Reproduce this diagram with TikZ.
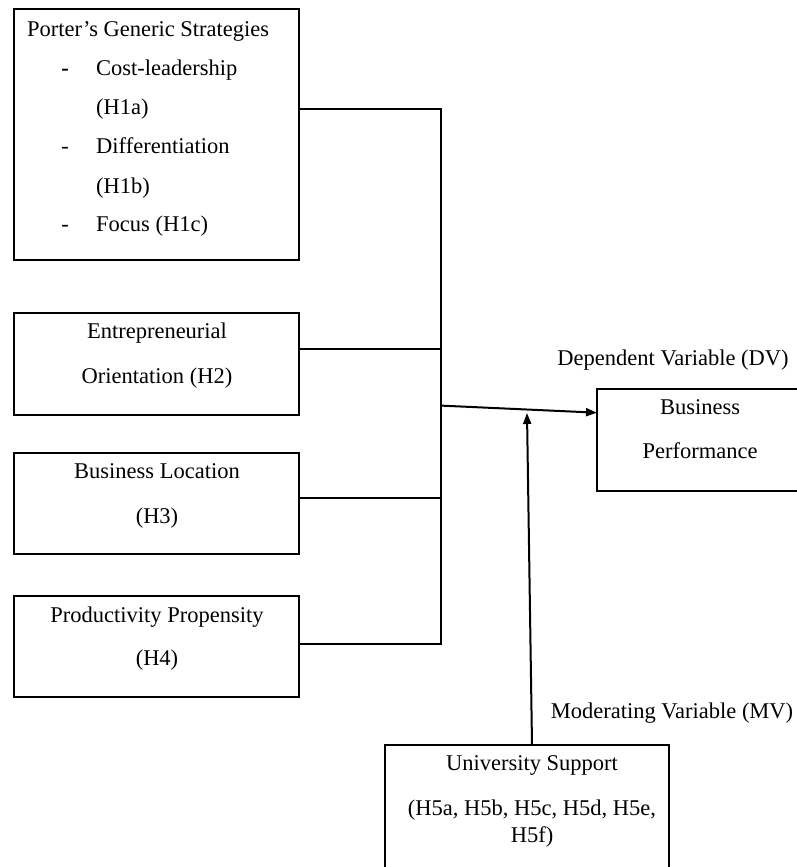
\documentclass[tikz,border=0pt]{standalone}
\usepackage{fontspec}
\setmainfont{Liberation Serif}
\usetikzlibrary{arrows.meta,calc}
\begin{document}
\begin{tikzpicture}[x=1pt,y=-1pt,
  box/.style={draw, line width=1.8pt, inner sep=0pt},
  lbl/.style={inner sep=0pt, text height=15.5pt, text depth=5pt, font=\fontsize{22.5}{27}\selectfont},
  conn/.style={line width=2pt},
  arr/.style={line width=2pt, -{Triangle[length=11pt,width=8pt]}}]
\useasboundingbox (0,0) rectangle (797,867);
\fill[white] (0,0) rectangle (797,867);
\clip (0,0) rectangle (797,867);

% boxes
\node[box, minimum width=285pt, minimum height=251pt] (box1) at (156.5,134.5) {};
\node[box, minimum width=285pt, minimum height=102pt] (box2) at (156.5,364) {};
\node[box, minimum width=285pt, minimum height=101pt] (box3) at (156.5,503.5) {};
\node[box, minimum width=285pt, minimum height=101pt] (box4) at (156.5,646.5) {};
\node[box, minimum width=203pt, minimum height=102pt] (bp) at (698.5,440) {};
\node[box, minimum width=284pt, minimum height=145pt] (us) at (527,817.5) {};

% box 1 texts
\node[lbl, anchor=west] (t1) at (27,31) {Porter’s Generic Strategies};
\node[lbl] (d1) at (65,70) {\textbf{-}};
\node[lbl, anchor=west] (t2) at (96,70) {Cost-leadership};
\node[lbl, anchor=west] (t3) at (96,109) {(H1a)};
\node[lbl] (d2) at (65,148) {-};
\node[lbl, anchor=west] (t4) at (96,148) {Differentiation};
\node[lbl, anchor=west] (t5) at (96,188) {(H1b)};
\node[lbl] (d3) at (65,226) {-};
\node[lbl, anchor=west] (t6) at (96,226) {Focus (H1c)};

% box 2-4 texts
\node[lbl] (e1) at (157,333) {Entrepreneurial};
\node[lbl] (e2) at (157,378) {Orientation (H2)};
\node[lbl] (l1) at (157,473) {Business Location};
\node[lbl] (l2) at (157,518) {(H3)};
\node[lbl] (p1) at (157,617) {Productivity Propensity};
\node[lbl] (p2) at (157,660) {(H4)};

% business performance
\node[lbl] (b1) at (700,409) {Business};
\node[lbl] (b2) at (700,453) {Performance};
\node[lbl] (dv) at (673,360) {Dependent Variable (DV)};

% university support
\node[lbl] (u1) at (532,765) {University Support};
\node[lbl] (u2) at (532,810) {(H5a, H5b, H5c, H5d, H5e,};
\node[lbl] (u3) at (532,837) {H5f)};
\node[lbl] (mv) at (672,713) {Moderating Variable (MV)};

% connectors
\coordinate (j1) at (441,109);
\coordinate (j2) at (441,349);
\coordinate (j3) at (441,498);
\coordinate (j4) at (441,644);
\coordinate (jm) at (441,405.6);
\coordinate (dvin) at (597,412.7);
\coordinate (mvtip) at (527,413);

\draw[conn] (box1.east |- j1) -- (j1) -- (j4) -- (box4.east |- j4);
\draw[conn] (box2.east |- j2) -- (j2);
\draw[conn] (box3.east |- j3) -- (j3);
\draw[arr] (jm) -- (dvin);
\draw[arr] ([xshift=5pt]us.north) -- (mvtip);
\end{tikzpicture}
\end{document}
